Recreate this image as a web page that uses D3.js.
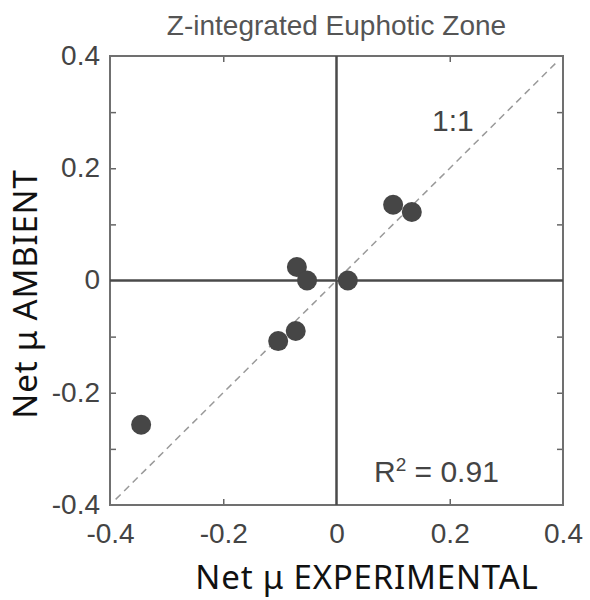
<!DOCTYPE html>
<html>
<head>
<meta charset="utf-8">
<script src="https://cdn.jsdelivr.net/npm/d3@7"></script>
<style>
  body { margin: 0; background: #fff; }
  .tick text { font-family: "Liberation Sans", Arial, sans-serif; font-size: 28px; fill: #444; }
  .axis path { display: none; }
  .axis line { stroke: #666; stroke-width: 1.5; }
</style>
</head>
<body>
<div id="chart"></div>
<script>
// net mu values
var experimental = [0.100, 0.133, -0.070, -0.052, 0.020, -0.072, -0.103, -0.345];
var ambient      = [0.135, 0.122, 0.024, 0.000, 0.000, -0.090, -0.108, -0.257];
var labelTicks = [-0.4, -0.2, 0, 0.2, 0.4];
var yMinorTicks = [-0.3, -0.2, -0.1, 0.1, 0.2, 0.3];
var xMinorTicks = [-0.2, 0.2];
var oneToOne = [-0.39, 0.39];

var width = 590, height = 600;
var pLeft = 110, pRight = 563, pTop = 56, pBottom = 505;

var svg = d3.select("#chart").append("svg")
  .attr("width", width)
  .attr("height", height);

var x = d3.scaleLinear().domain([-0.4, 0.4]).range([pLeft, pRight]);
var y = d3.scaleLinear().domain([-0.4, 0.4]).range([pBottom, pTop]);

var fmt = function(d) { return d === 0 ? "0" : d.toFixed(1); };

// title
svg.append("text")
  .attr("x", x(0))
  .attr("y", 35)
  .attr("text-anchor", "middle")
  .style("font-family", "Liberation Sans, Arial, sans-serif")
  .style("font-size", "28px")
  .style("fill", "#555")
  .text("Z-integrated Euphotic Zone");

// inward minor ticks on all sides
svg.append("g").attr("class", "axis")
  .attr("transform", "translate(0," + pBottom + ")")
  .call(d3.axisBottom(x).tickValues(xMinorTicks).tickSize(-6).tickFormat(""));
svg.append("g").attr("class", "axis")
  .attr("transform", "translate(0," + pTop + ")")
  .call(d3.axisTop(x).tickValues(xMinorTicks).tickSize(-6).tickFormat(""));
svg.append("g").attr("class", "axis")
  .attr("transform", "translate(" + pLeft + ",0)")
  .call(d3.axisLeft(y).tickValues(yMinorTicks).tickSize(-6).tickFormat(""));
svg.append("g").attr("class", "axis")
  .attr("transform", "translate(" + pRight + ",0)")
  .call(d3.axisRight(y).tickValues(yMinorTicks).tickSize(-6).tickFormat(""));

// tick labels
var xAx = svg.append("g").attr("class", "axis")
  .attr("transform", "translate(0," + pBottom + ")")
  .call(d3.axisBottom(x).tickValues(labelTicks).tickSize(0).tickFormat(fmt));
xAx.selectAll("text").attr("y", 38).attr("dy", null);

var yAx = svg.append("g").attr("class", "axis")
  .attr("transform", "translate(" + pLeft + ",0)")
  .call(d3.axisLeft(y).tickValues(labelTicks).tickSize(0).tickFormat(fmt));
yAx.selectAll("text").attr("x", -10).attr("dy", "0.3em");

// frame
svg.append("rect")
  .attr("x", pLeft).attr("y", pTop)
  .attr("width", pRight - pLeft).attr("height", pBottom - pTop)
  .attr("fill", "none")
  .attr("stroke", "#707070")
  .attr("stroke-width", 2);

// zero lines
svg.append("line")
  .attr("x1", x(0)).attr("x2", x(0))
  .attr("y1", pTop).attr("y2", pBottom)
  .attr("stroke", "#4a4a4a").attr("stroke-width", 2.5);
svg.append("line")
  .attr("x1", pLeft).attr("x2", pRight)
  .attr("y1", y(0)).attr("y2", y(0))
  .attr("stroke", "#4a4a4a").attr("stroke-width", 2.5);

// 1:1 line
svg.append("line")
  .attr("x1", x(oneToOne[0])).attr("y1", y(oneToOne[0]))
  .attr("x2", x(oneToOne[1])).attr("y2", y(oneToOne[1]))
  .attr("stroke", "#999")
  .attr("stroke-width", 1.5)
  .attr("stroke-dasharray", "7,5");

// points
svg.append("g").selectAll("circle")
  .data(experimental).enter()
  .append("circle")
  .attr("cx", function(d) { return x(d); })
  .attr("cy", function(d, i) { return y(ambient[i]); })
  .attr("r", 10)
  .attr("fill", "#464646");

// annotations
svg.append("text")
  .attr("x", 432).attr("y", 131)
  .style("font-family", "Liberation Sans, Arial, sans-serif")
  .style("font-size", "30px")
  .style("fill", "#444")
  .text("1:1");

var r2 = svg.append("text")
  .attr("x", 374).attr("y", 482)
  .style("font-family", "Liberation Sans, Arial, sans-serif")
  .style("font-size", "30px")
  .style("fill", "#444");
r2.append("tspan").text("R");
r2.append("tspan").attr("dy", -11).style("font-size", "19px").text("2");
r2.append("tspan").attr("dy", 11).text(" = 0.91");

// axis titles
svg.append("text")
  .attr("x", 367).attr("y", 589)
  .attr("text-anchor", "middle")
  .style("font-family", "Noto Sans, sans-serif")
  .style("font-size", "33px")
  .style("letter-spacing", "0.8px")
  .style("fill", "#111")
  .text("Net \u03bc EXPERIMENTAL");

svg.append("text")
  .attr("transform", "translate(37,294) rotate(-90)")
  .attr("text-anchor", "middle")
  .style("font-family", "Noto Sans, sans-serif")
  .style("font-size", "33px")
  .style("letter-spacing", "0.8px")
  .style("fill", "#111")
  .text("Net \u03bc AMBIENT");
</script>
</body>
</html>
